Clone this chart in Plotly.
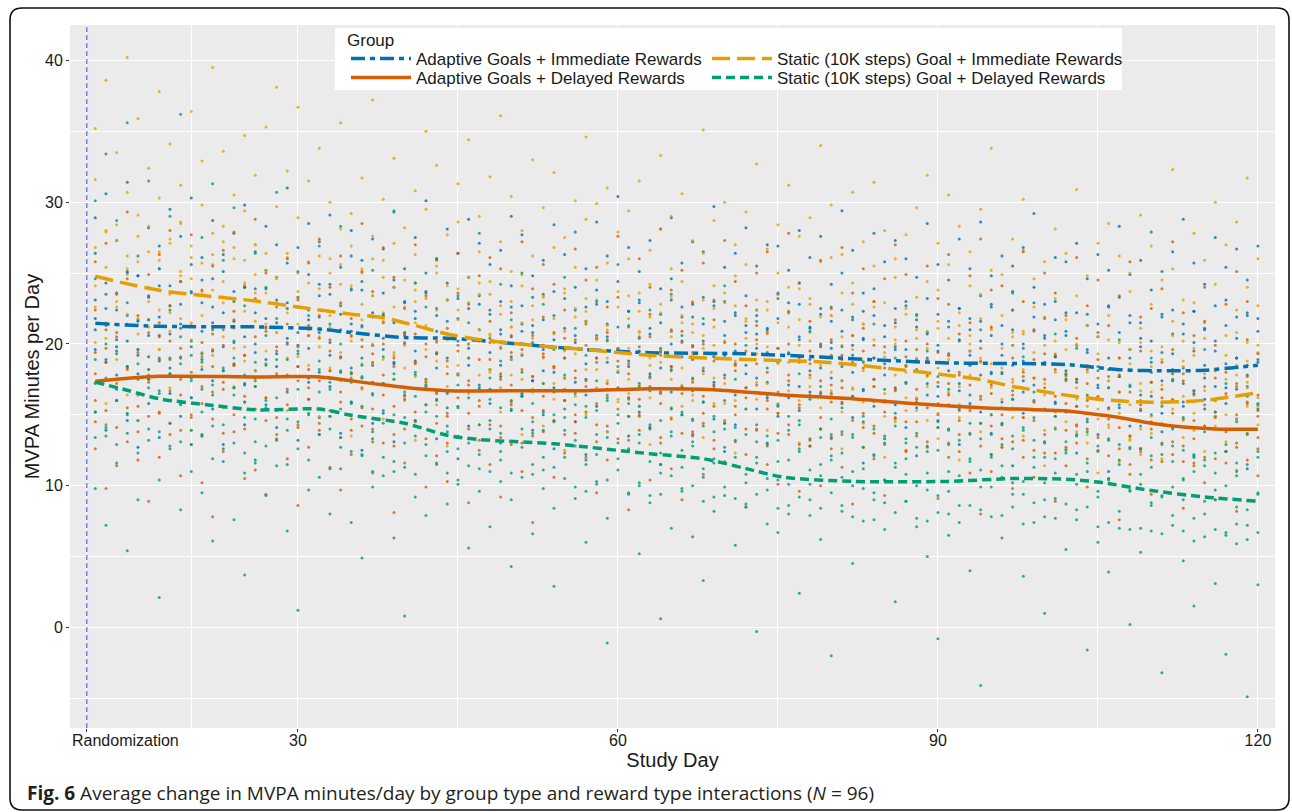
import plotly.graph_objects as go

# ---------------- data ----------------
GROUPS = [
    "Adaptive Goals + Immediate Rewards",
    "Static (10K steps) Goal + Immediate Rewards",
    "Adaptive Goals + Delayed Rewards",
    "Static (10K steps) Goal + Delayed Rewards",
]

DAYS = [11, 12, 13, 14, 15, 16, 17, 18, 19, 20, 21, 22, 23, 24, 25, 26, 27, 28, 29, 30,
        31, 32, 33, 34, 35, 36, 37, 38, 39, 40, 41, 42, 43, 44, 45, 46, 47, 48, 49, 50,
        51, 52, 53, 54, 55, 56, 57, 58, 59, 60, 61, 62, 63, 64, 65, 66, 67, 68, 69, 70,
        71, 72, 73, 74, 75, 76, 77, 78, 79, 80, 81, 82, 83, 84, 85, 86, 87, 88, 89, 90,
        91, 92, 93, 94, 95, 96, 97, 98, 99, 100, 101, 102, 103, 104, 105, 106, 107, 108, 109, 110,
        111, 112, 113, 114, 115, 116, 117, 118, 119, 120]

# daily MVPA values, one row per day
AI_DOTS = [
    [21.8, 26.4, 15.2, 28.9], [18.7, 23.5, 30.6, 13.9], [22.4, 16.8, 27.3, 19.5], [25.1, 14.6, 20.2, 31.4],
    [17.9, 24.8, 21.6, 12.7], [23.3, 19.1, 28.2, 15.8], [20.6, 26.9, 13.4, 24.1], [16.5, 22.7, 29.5, 18.3],
    [24.4, 14.9, 21.1, 27.6], [19.8, 25.6, 16.2, 30.3], [22.9, 13.6, 26.1, 18.9], [15.4, 21.5, 28.7, 24.6],
    [26.3, 18.1, 12.9, 22.2], [20.1, 27.8, 16.9, 23.7], [17.2, 24.0, 29.8, 14.3], [23.9, 19.4, 26.5, 11.8],
    [21.2, 15.7, 28.3, 25.2], [18.4, 23.1, 14.1, 27.0], [25.7, 20.4, 16.6, 31.0], [22.6, 13.2, 19.9, 26.8],
    [16.1, 24.9, 21.7, 28.5], [20.8, 27.2, 14.8, 23.4], [24.2, 17.6, 29.1, 19.2], [13.7, 22.1, 25.4, 18.0],
    [21.4, 26.2, 15.9, 28.0], [19.0, 23.8, 12.5, 25.9], [27.4, 17.3, 21.9, 14.4], [22.0, 15.1, 26.7, 19.6],
    [18.6, 24.5, 29.3, 13.1], [25.3, 20.0, 16.4, 23.0], [14.6, 21.8, 27.5, 18.8], [23.6, 17.0, 25.0, 30.1],
    [19.3, 26.0, 13.3, 22.5], [21.6, 15.5, 28.1, 24.3], [17.8, 23.2, 11.9, 26.4], [24.7, 19.7, 14.2, 28.8],
    [20.3, 27.1, 16.7, 22.8], [15.8, 22.4, 25.6, 18.2], [26.6, 18.5, 21.0, 13.0], [19.1, 24.1, 29.0, 15.3],
    [22.7, 16.3, 27.7, 20.9], [13.9, 21.3, 24.8, 17.4], [25.9, 19.6, 15.0, 23.5], [18.0, 23.7, 28.4, 12.6],
    [21.1, 26.3, 16.0, 19.0], [24.0, 14.5, 20.6, 27.9], [17.5, 22.6, 25.3, 12.2], [20.4, 15.6, 28.6, 23.8],
    [26.2, 18.7, 13.8, 21.4], [16.9, 24.4, 19.4, 30.4], [22.3, 13.5, 26.8, 18.4], [19.5, 25.1, 15.2, 23.1],
    [27.3, 20.7, 14.0, 17.7], [18.3, 23.9, 21.5, 11.5], [24.6, 16.6, 28.9, 20.0], [15.0, 21.9, 25.7, 19.1],
    [22.8, 18.9, 13.6, 27.2], [20.2, 26.5, 16.8, 23.3], [17.1, 23.0, 29.7, 14.7], [25.4, 19.2, 12.4, 21.6],
    [14.3, 22.2, 26.4, 18.6], [23.4, 17.9, 20.8, 28.2], [19.7, 25.5, 15.4, 22.0], [21.0, 13.0, 27.0, 17.3],
    [26.9, 18.8, 23.6, 14.9], [16.2, 22.9, 19.3, 25.2], [24.3, 15.3, 28.0, 20.5], [18.1, 21.2, 12.8, 26.1],
    [22.1, 27.6, 16.5, 19.8], [13.4, 20.1, 24.2, 17.6], [25.0, 18.4, 22.4, 29.4], [19.9, 14.8, 26.6, 21.7],
    [16.7, 23.6, 11.6, 20.3], [27.8, 19.0, 15.6, 23.9], [21.3, 25.8, 17.8, 13.3], [15.7, 22.5, 19.6, 27.3],
    [23.0, 14.1, 26.0, 18.5], [18.9, 24.7, 12.1, 21.2], [20.7, 16.4, 28.5, 23.2], [25.6, 19.5, 14.6, 17.0],
    [14.0, 21.6, 24.5, 19.3], [22.5, 17.2, 27.4, 12.9], [19.2, 25.3, 15.8, 21.8], [16.3, 23.4, 20.2, 28.6],
    [24.8, 18.0, 13.7, 22.6], [20.0, 14.4, 26.2, 17.9], [23.7, 21.0, 11.4, 25.5], [17.4, 26.8, 19.7, 15.1],
    [21.9, 16.0, 24.0, 29.2], [18.6, 22.8, 13.1, 20.6], [26.1, 19.1, 15.9, 23.0], [15.2, 20.9, 25.8, 18.1],
    [22.2, 17.5, 12.3, 27.1], [19.6, 24.6, 21.3, 14.5], [13.6, 20.5, 26.3, 17.1], [25.2, 18.2, 22.7, 11.0],
    [17.7, 23.3, 15.5, 28.3], [21.5, 14.2, 19.0, 24.9], [16.4, 25.9, 20.4, 12.6], [23.8, 18.7, 27.9, 15.0],
    [19.4, 13.8, 22.1, 25.1], [26.5, 17.4, 20.7, 14.1], [15.6, 21.4, 28.8, 18.3], [22.3, 12.0, 19.5, 25.7],
    [18.5, 24.2, 16.1, 21.0], [14.9, 20.2, 27.5, 17.0], [23.1, 16.9, 25.4, 12.4], [19.0, 26.7, 14.7, 21.9],
    [24.5, 17.8, 22.0, 11.2], [20.9, 15.4, 26.9, 18.7],
]
AI_CORE = [
    [19.6, 23.1, 21.0], [22.5, 18.9, 24.3], [20.3, 17.8, 23.6], [18.4, 22.0, 25.0], [21.7, 19.2, 24.8],
    [23.4, 17.5, 20.6], [18.8, 21.9, 25.3], [20.7, 24.1, 17.9], [22.8, 19.0, 21.4], [17.6, 23.7, 20.2],
    [24.5, 20.9, 18.2], [19.5, 22.6, 17.4], [21.2, 25.1, 19.8], [23.0, 18.6, 21.6], [20.5, 17.1, 24.0],
    [22.2, 20.0, 18.1], [18.9, 23.9, 21.8], [21.5, 19.3, 24.7], [20.0, 22.9, 17.7], [23.3, 18.4, 20.8],
    [19.7, 22.4, 17.3], [21.9, 18.0, 24.2], [20.1, 23.5, 17.0], [22.7, 19.1, 21.0], [18.3, 20.9, 23.8],
    [21.3, 17.6, 24.4], [19.9, 22.2, 18.5], [23.6, 20.4, 17.2], [18.7, 21.5, 24.0], [20.6, 16.9, 22.9],
    [22.3, 19.5, 17.8], [17.5, 21.1, 23.7], [20.9, 18.3, 22.0], [19.0, 23.1, 16.6], [21.8, 17.9, 20.2],
    [18.5, 22.5, 20.0], [21.0, 17.1, 23.4], [19.4, 22.1, 16.8], [17.7, 20.7, 23.0], [22.6, 18.9, 20.5],
    [16.5, 21.4, 19.2], [20.8, 23.3, 17.4], [18.1, 21.7, 19.9], [22.0, 16.9, 20.3], [19.6, 23.2, 17.6],
    [17.3, 20.1, 22.4], [21.6, 18.6, 16.4], [19.0, 22.8, 20.6], [16.8, 20.5, 23.0], [21.2, 18.0, 19.7],
    [18.8, 22.3, 16.2], [20.4, 17.2, 22.9], [17.9, 21.1, 19.3], [22.1, 19.5, 16.6], [18.4, 20.9, 23.1],
    [20.2, 17.0, 22.6], [16.7, 19.8, 21.9], [21.4, 18.1, 15.9], [19.1, 22.7, 17.3], [17.8, 20.6, 23.0],
    [22.0, 16.4, 19.5], [18.5, 21.3, 16.9], [20.7, 17.6, 22.4], [16.2, 19.4, 21.1], [21.8, 18.7, 15.6],
    [19.3, 22.2, 17.1], [17.0, 20.3, 22.8], [21.1, 16.6, 18.9], [18.3, 22.5, 20.0], [16.5, 19.7, 21.6],
    [20.9, 17.4, 15.8], [18.0, 21.9, 19.2], [22.3, 16.8, 20.4], [17.5, 19.0, 22.0], [20.5, 15.9, 18.6],
    [16.9, 21.5, 19.8], [19.6, 17.3, 22.7], [21.7, 18.2, 15.5], [17.2, 20.8, 19.0], [19.9, 16.3, 22.1],
    [18.1, 21.2, 15.7], [20.3, 16.7, 22.5], [16.4, 19.5, 21.0], [21.6, 17.8, 15.2], [17.9, 20.6, 22.8],
    [19.2, 15.9, 21.3], [22.4, 18.5, 16.1], [16.6, 20.0, 18.8], [21.0, 17.1, 22.9], [18.7, 15.4, 20.4],
    [15.8, 21.7, 19.1], [20.6, 17.5, 22.2], [17.3, 19.9, 15.6], [22.1, 16.2, 19.4], [18.4, 21.4, 16.9],
    [15.5, 19.0, 22.6], [20.8, 17.7, 16.0], [17.0, 22.0, 19.6], [19.8, 15.3, 21.5], [16.3, 20.2, 18.0],
    [21.9, 17.4, 15.1], [18.2, 22.4, 19.3], [15.9, 20.7, 17.2], [20.1, 16.5, 22.3], [17.6, 21.1, 15.4],
    [19.5, 16.0, 22.7], [21.3, 18.6, 15.8], [16.8, 20.4, 19.0], [22.2, 17.0, 18.5], [18.9, 15.7, 21.8],
]
SI_DOTS = [
    [24.1, 31.6, 17.3, 35.2], [27.9, 20.4, 38.6, 15.8], [22.6, 33.5, 18.9, 28.4], [40.2, 25.3, 16.4, 30.7],
    [21.8, 29.1, 35.9, 14.6], [26.5, 18.2, 32.4, 23.0], [30.3, 19.6, 37.8, 25.9], [16.9, 27.4, 22.2, 34.1],
    [24.8, 31.2, 17.7, 28.6], [36.4, 21.5, 26.1, 13.9], [23.7, 29.8, 18.4, 32.9], [19.2, 25.6, 39.5, 27.8],
    [28.3, 15.5, 22.9, 33.6], [21.1, 30.5, 26.8, 17.0], [34.7, 24.3, 19.8, 29.4], [18.1, 27.0, 23.6, 31.9],
    [25.2, 35.3, 16.2, 21.4], [29.7, 20.8, 38.1, 24.6], [15.3, 26.4, 32.2, 22.5], [23.2, 28.9, 19.1, 36.7],
    [31.5, 17.6, 25.8, 21.0], [20.5, 27.3, 33.8, 14.9], [26.0, 22.0, 30.0, 18.3], [17.4, 35.6, 24.2, 28.1],
    [29.2, 20.2, 26.9, 13.5], [22.8, 31.7, 16.8, 25.0], [27.6, 18.6, 37.2, 23.4], [14.7, 25.9, 21.6, 30.2],
    [24.0, 33.1, 19.4, 27.1], [19.9, 28.2, 16.0, 22.6], [30.8, 23.8, 13.2, 26.3], [21.3, 17.1, 29.5, 35.0],
    [25.5, 20.1, 32.6, 15.7], [18.4, 27.7, 23.1, 12.8], [28.6, 22.4, 17.9, 31.3], [16.5, 24.7, 34.4, 20.0],
    [23.5, 29.0, 14.3, 26.5], [20.6, 31.8, 18.0, 24.4], [27.2, 15.2, 22.7, 36.1], [17.8, 25.1, 30.4, 21.2],
    [24.9, 19.3, 13.6, 28.0], [21.7, 33.0, 26.2, 16.6], [14.2, 23.3, 19.0, 29.6], [26.8, 20.7, 32.1, 17.2],
    [19.5, 27.5, 23.9, 12.5], [30.1, 16.3, 21.9, 25.4], [22.3, 28.8, 15.0, 34.6], [18.2, 24.5, 29.9, 20.3],
    [25.7, 13.8, 21.0, 31.0], [16.1, 27.9, 23.7, 19.6], [29.4, 21.8, 17.5, 26.0], [23.6, 15.6, 31.5, 20.9],
    [19.0, 26.6, 12.9, 24.2], [28.1, 22.2, 18.7, 33.3], [14.8, 20.5, 25.3, 29.0], [24.4, 30.6, 17.1, 21.5],
    [20.8, 16.0, 27.3, 23.0], [26.4, 19.7, 35.1, 13.4], [17.6, 24.1, 21.2, 28.7], [22.9, 30.0, 15.8, 19.4],
    [27.0, 18.5, 24.8, 12.3], [15.4, 21.6, 29.3, 25.6], [23.1, 17.3, 20.0, 32.7], [19.8, 26.7, 13.9, 22.4],
    [25.0, 15.1, 28.4, 18.8], [21.2, 31.2, 16.7, 24.0], [13.0, 23.9, 27.6, 19.2], [28.9, 20.2, 17.0, 22.8],
    [18.5, 25.8, 34.0, 14.0], [22.0, 16.4, 26.1, 29.8], [26.3, 19.9, 12.6, 23.6], [16.8, 24.3, 30.7, 20.6],
    [21.4, 27.2, 18.1, 14.4], [25.5, 15.9, 23.0, 31.4], [19.1, 22.9, 28.0, 12.0], [14.5, 26.0, 20.3, 24.7],
    [27.7, 18.0, 22.5, 16.2], [20.4, 29.6, 15.3, 23.3], [17.0, 24.4, 31.9, 19.7], [23.8, 13.3, 27.1, 21.1],
    [18.9, 25.6, 16.5, 30.5], [22.2, 15.7, 28.3, 11.8], [26.5, 20.0, 17.8, 24.1], [13.8, 23.5, 29.5, 19.0],
    [21.0, 16.9, 25.2, 33.8], [24.9, 18.3, 12.7, 22.0], [17.5, 27.4, 20.8, 14.8], [20.7, 13.5, 26.6, 30.2],
    [15.9, 22.6, 18.6, 24.6], [25.8, 17.2, 21.9, 11.4], [19.3, 28.1, 14.1, 23.2], [12.6, 21.7, 26.4, 17.7],
    [23.4, 16.1, 30.9, 19.9], [18.0, 24.8, 13.0, 21.3], [27.1, 15.4, 20.5, 10.9], [14.3, 22.0, 17.4, 28.5],
    [20.1, 26.2, 11.7, 16.6], [23.7, 13.2, 19.6, 25.0], [16.7, 21.1, 29.1, 12.2], [22.8, 18.4, 14.9, 26.9],
    [11.9, 19.8, 24.5, 17.1], [25.3, 16.0, 21.6, 32.3], [18.8, 23.1, 13.4, 20.2], [15.1, 27.8, 19.2, 22.9],
    [21.5, 12.4, 25.9, 17.9], [24.2, 18.1, 30.0, 14.2], [13.1, 20.6, 16.3, 27.0], [22.4, 28.6, 18.5, 11.1],
    [17.3, 24.0, 31.7, 20.1], [26.0, 15.6, 19.9, 22.7],
]
SI_CORE = [
    [22.6, 26.8, 20.1], [25.4, 21.5, 28.0], [23.0, 27.3, 19.8], [26.2, 22.1, 24.9], [20.7, 25.8, 27.6],
    [24.0, 21.2, 28.3], [22.4, 26.5, 19.6], [27.1, 23.5, 20.9], [21.8, 25.1, 28.5], [24.6, 20.3, 26.9],
    [22.0, 25.7, 19.4], [26.3, 21.1, 23.8], [20.5, 24.4, 27.2], [23.1, 19.7, 26.0], [25.9, 22.3, 18.8],
    [21.6, 24.9, 27.0], [19.5, 23.6, 26.4], [24.7, 20.8, 22.9], [22.2, 26.1, 19.0], [25.0, 21.4, 23.7],
    [20.6, 24.3, 18.5], [23.9, 19.8, 26.2], [21.2, 25.0, 18.1], [19.4, 22.8, 25.6], [24.1, 20.5, 17.9],
    [21.7, 18.6, 25.3], [23.4, 20.0, 26.0], [18.9, 22.2, 24.7], [22.6, 19.2, 17.5], [20.8, 24.5, 18.3],
    [23.0, 17.7, 21.5], [19.6, 23.2, 17.4], [22.4, 18.8, 25.0], [20.3, 24.1, 17.0], [18.5, 21.7, 23.9],
    [22.9, 19.0, 16.6], [17.8, 21.0, 24.3], [20.7, 18.2, 23.5], [22.1, 16.9, 19.8], [18.9, 23.0, 21.2],
    [21.5, 17.5, 24.1], [16.8, 20.4, 22.7], [19.9, 23.4, 17.2], [21.8, 18.4, 16.1], [17.6, 20.9, 23.6],
    [22.5, 19.3, 16.7], [18.2, 21.6, 23.2], [20.5, 16.9, 23.1], [17.4, 21.3, 19.0], [22.6, 18.1, 15.9],
    [19.7, 23.4, 16.5], [17.1, 20.8, 22.3], [21.9, 18.5, 16.2], [16.8, 19.6, 22.8], [20.9, 17.5, 23.3],
    [18.3, 22.0, 15.6], [21.4, 16.4, 19.2], [17.9, 23.1, 20.6], [15.8, 19.9, 22.5], [20.2, 17.2, 23.6],
    [22.7, 18.8, 16.0], [16.6, 20.4, 21.8], [19.3, 22.4, 16.1], [17.2, 20.7, 23.0], [21.5, 15.8, 18.6],
    [18.7, 22.2, 16.4], [16.0, 19.9, 21.7], [20.8, 17.6, 23.2], [15.5, 19.1, 21.9], [22.0, 18.0, 16.7],
    [17.4, 20.5, 15.2], [19.6, 22.8, 16.9], [15.9, 18.8, 21.4], [20.3, 17.0, 22.6], [16.5, 19.4, 14.9],
    [21.2, 17.8, 20.0], [15.3, 18.5, 22.1], [19.0, 16.2, 21.0], [17.7, 20.9, 14.6], [15.1, 18.3, 21.6],
    [20.4, 16.6, 19.2], [17.0, 21.3, 14.8], [19.5, 15.6, 20.6], [16.3, 18.7, 21.8], [18.6, 15.0, 21.1],
    [16.1, 19.7, 14.3], [20.5, 17.3, 15.5], [14.8, 18.2, 20.9], [17.6, 15.3, 19.4], [19.9, 16.4, 13.9],
    [15.2, 18.0, 20.2], [17.9, 14.5, 19.6], [13.8, 16.9, 20.0], [18.5, 15.6, 13.6], [16.2, 19.3, 14.7],
    [14.1, 17.4, 20.3], [19.0, 15.1, 17.8], [15.7, 18.6, 13.3], [17.2, 14.0, 20.1], [13.7, 16.6, 19.5],
    [18.9, 15.8, 14.4], [15.4, 17.9, 20.6], [14.6, 18.4, 16.3], [19.7, 15.9, 13.9], [16.7, 14.2, 20.4],
    [18.1, 16.0, 14.9], [15.0, 19.2, 17.5], [17.8, 14.7, 20.8], [15.6, 18.8, 16.9], [19.4, 16.2, 14.3],
]
AD_DOTS = [
    [17.9, 22.4, 12.6, 25.8], [14.3, 19.7, 27.1, 9.8], [20.8, 16.0, 23.5, 11.4], [13.1, 24.6, 18.2, 29.3],
    [19.4, 11.8, 22.0, 15.6], [24.9, 17.3, 8.9, 21.7], [15.2, 20.5, 26.3, 12.0], [22.7, 13.6, 18.9, 28.0],
    [10.7, 19.1, 24.4, 16.4], [21.3, 15.0, 27.7, 12.9], [17.0, 23.8, 10.2, 20.1], [25.5, 14.7, 19.6, 7.8],
    [12.4, 21.0, 16.8, 26.6], [18.5, 27.9, 13.8, 22.3], [15.9, 10.5, 24.1, 19.2], [23.2, 17.6, 11.1, 28.8],
    [9.4, 20.9, 16.2, 25.0], [19.8, 13.3, 22.6, 14.8], [26.0, 17.8, 11.9, 21.4], [14.1, 23.1, 18.4, 8.6],
    [20.6, 12.7, 25.7, 16.9], [17.4, 27.4, 14.4, 22.0], [11.3, 19.5, 24.0, 15.3], [22.9, 16.6, 9.7, 26.2],
    [13.9, 21.8, 18.0, 12.2], [25.1, 15.5, 20.3, 28.5], [18.7, 10.9, 23.7, 14.0], [21.5, 26.8, 13.0, 17.2],
    [12.8, 19.0, 24.7, 8.1], [16.3, 22.5, 11.6, 20.7], [24.3, 14.5, 18.6, 27.0], [9.9, 20.0, 15.7, 23.4],
    [19.3, 25.9, 12.1, 16.5], [14.9, 21.1, 17.9, 10.3], [23.6, 13.4, 19.9, 26.4], [17.1, 8.8, 22.8, 15.1],
    [20.2, 16.0, 12.5, 24.8], [11.5, 18.9, 26.1, 21.6], [25.3, 14.2, 17.5, 9.2], [15.7, 22.2, 20.6, 12.9],
    [19.6, 27.2, 11.0, 16.7], [13.5, 17.7, 23.9, 7.4], [21.9, 15.3, 19.1, 25.6], [10.6, 24.2, 14.6, 18.3],
    [16.8, 12.3, 22.4, 20.4], [26.7, 18.1, 13.7, 15.0], [12.0, 21.4, 17.0, 24.5], [19.0, 9.5, 25.4, 14.3],
    [22.6, 16.4, 11.8, 20.8], [15.4, 23.3, 18.8, 27.6], [8.3, 17.9, 21.2, 13.2], [20.5, 14.9, 26.0, 16.1],
    [17.6, 24.0, 10.4, 22.1], [13.0, 19.4, 15.8, 28.1], [23.8, 11.2, 18.4, 21.0], [16.5, 20.1, 25.2, 9.0],
    [19.9, 13.8, 22.9, 17.3], [10.8, 25.7, 16.3, 14.4], [21.7, 17.0, 12.6, 23.1], [14.6, 19.3, 27.3, 11.7],
    [24.4, 15.6, 18.1, 20.0], [12.2, 22.7, 16.9, 8.5], [18.6, 14.0, 25.0, 21.3], [20.8, 26.5, 11.5, 16.0],
    [15.1, 10.1, 19.7, 23.5], [22.3, 17.4, 13.6, 27.8], [9.6, 18.7, 24.3, 15.5], [17.8, 21.6, 12.8, 19.5],
    [25.9, 14.8, 16.6, 10.0], [13.3, 20.3, 22.5, 17.1], [19.2, 11.3, 26.8, 15.9], [16.2, 23.6, 8.7, 20.6],
    [21.1, 14.1, 18.3, 25.3], [11.9, 17.5, 23.0, 13.7], [24.6, 19.8, 15.2, 9.3], [14.7, 21.7, 16.8, 27.0],
    [18.4, 12.4, 24.9, 20.2], [10.3, 16.1, 22.1, 14.5], [20.0, 25.5, 13.1, 17.8], [15.8, 9.1, 19.4, 23.2],
    [22.8, 17.2, 12.0, 26.3], [13.6, 20.7, 15.3, 18.0], [17.1, 24.8, 10.9, 21.5], [19.7, 14.4, 27.4, 8.0],
    [11.0, 21.2, 16.5, 23.8], [24.1, 15.0, 18.6, 12.7], [16.4, 19.9, 9.8, 22.4], [13.2, 23.0, 17.7, 26.5],
    [20.9, 10.6, 14.6, 18.9], [17.5, 25.0, 21.8, 12.3], [8.9, 16.3, 19.2, 23.6], [22.0, 13.9, 11.4, 17.4],
    [15.6, 20.4, 26.1, 14.2], [18.2, 9.9, 22.7, 16.0], [12.5, 17.6, 24.5, 20.8], [21.3, 14.7, 10.5, 16.9],
    [16.6, 23.4, 19.0, 7.6], [10.8, 18.1, 13.5, 25.8], [19.5, 12.6, 21.9, 15.4], [14.0, 22.5, 17.3, 9.4],
    [23.9, 16.2, 11.7, 18.7], [13.1, 19.6, 15.1, 27.2], [17.9, 8.4, 22.2, 12.8], [11.6, 20.6, 16.4, 14.6],
    [21.6, 15.7, 24.0, 10.2], [14.8, 9.0, 18.2, 19.9], [18.0, 22.8, 12.4, 16.2], [12.7, 17.0, 25.1, 8.2],
    [20.3, 13.7, 15.9, 23.0], [15.3, 10.7, 19.3, 13.4],
]
AD_CORE = [
    [16.0, 19.4, 14.5], [18.7, 15.3, 21.0], [17.2, 20.5, 14.1], [15.5, 18.3, 21.4], [19.6, 16.4, 13.8],
    [17.8, 14.9, 20.8], [15.1, 18.9, 21.5], [20.2, 16.7, 14.4], [17.5, 13.9, 19.7], [14.8, 18.0, 21.2],
    [19.1, 15.8, 13.5], [16.6, 20.7, 18.4], [13.7, 17.3, 19.9], [18.5, 15.0, 21.7], [16.3, 19.2, 14.0],
    [20.5, 17.0, 15.4], [14.6, 18.6, 21.1], [17.9, 13.6, 19.5], [15.7, 20.1, 16.8], [19.8, 14.3, 17.4],
    [16.1, 21.3, 18.2], [13.9, 17.7, 20.4], [18.1, 14.9, 20.3], [15.9, 19.0, 13.4], [17.6, 20.6, 14.7],
    [14.2, 16.9, 19.8], [19.3, 15.4, 13.1], [16.4, 20.0, 17.8], [13.6, 18.4, 15.6], [20.1, 16.1, 14.0],
    [15.2, 18.7, 20.7], [17.3, 13.3, 19.1], [14.4, 16.6, 20.2], [18.8, 15.1, 13.0], [16.2, 19.5, 13.5],
    [14.0, 17.4, 20.4], [18.9, 15.6, 13.2], [16.7, 20.1, 14.3], [13.4, 17.9, 19.7], [19.4, 15.9, 17.1],
    [15.3, 18.2, 13.0], [17.7, 20.6, 14.8], [13.8, 16.3, 19.3], [18.4, 14.6, 20.8], [16.0, 19.0, 13.6],
    [14.5, 17.6, 20.3], [19.9, 15.2, 17.4], [15.8, 13.1, 18.7], [17.2, 20.2, 14.2], [13.3, 16.8, 19.6],
    [18.6, 14.9, 16.1], [15.0, 19.8, 13.9], [17.0, 14.1, 20.5], [19.2, 16.5, 13.4], [14.7, 18.1, 15.5],
    [16.9, 20.9, 13.7], [13.5, 17.5, 19.4], [18.3, 15.1, 20.0], [15.6, 13.2, 18.8], [17.6, 14.4, 20.1],
    [15.0, 18.5, 13.1], [19.5, 16.2, 14.0], [13.9, 17.1, 20.3], [18.0, 15.4, 12.8], [16.6, 19.7, 13.7],
    [14.3, 17.8, 20.0], [19.0, 15.7, 12.9], [13.2, 16.4, 18.6], [17.4, 14.0, 19.9], [15.9, 19.2, 12.6],
    [13.6, 16.9, 18.9], [18.7, 14.6, 16.3], [15.1, 12.7, 19.5], [17.0, 19.9, 14.2], [12.9, 16.0, 18.3],
    [18.2, 14.8, 16.7], [14.5, 19.1, 12.5], [16.8, 13.5, 19.6], [18.9, 15.5, 12.7], [14.1, 17.3, 15.0],
    [16.4, 13.0, 19.2], [14.6, 17.8, 12.4], [18.5, 15.3, 13.6], [12.8, 16.1, 18.8], [17.1, 14.2, 12.2],
    [15.5, 18.6, 13.3], [13.1, 16.7, 19.0], [18.0, 14.8, 12.0], [12.5, 15.9, 17.6], [16.9, 13.6, 19.3],
    [14.9, 18.2, 12.3], [12.7, 15.8, 17.9], [17.5, 14.3, 13.0], [14.0, 11.9, 17.2], [16.3, 18.9, 13.4],
    [12.1, 15.4, 17.7], [17.8, 14.1, 12.6], [13.5, 16.6, 11.5], [15.7, 12.4, 18.1], [17.3, 14.5, 11.8],
    [12.9, 15.9, 16.8], [16.1, 12.2, 17.9], [11.7, 14.7, 17.4], [16.7, 13.3, 11.4], [14.2, 17.0, 12.0],
    [11.9, 15.2, 17.6], [16.5, 13.8, 11.6], [13.0, 17.2, 15.0], [15.8, 11.8, 17.7], [12.6, 14.9, 16.4],
]
SD_DOTS = [
    [17.2, 24.6, 9.8, 30.1], [13.5, 21.3, 33.4, 7.2], [19.8, 28.7, 11.6, 16.0], [35.6, 15.1, 22.9, 5.4],
    [12.3, 18.6, 26.2, 9.0], [21.7, 14.0, 31.5, 17.5], [10.4, 25.3, 16.7, 2.1], [19.0, 12.8, 29.0, 22.4],
    [36.2, 15.8, 8.3, 20.5], [13.9, 23.6, 17.4, 11.0], [27.5, 9.5, 19.3, 15.2], [16.4, 21.0, 6.1, 31.3],
    [11.7, 25.9, 18.1, 14.3], [20.2, 7.6, 16.9, 29.6], [14.8, 22.7, 10.9, 3.7], [18.7, 13.1, 26.4, 17.0],
    [9.3, 20.6, 15.5, 24.0], [16.2, 11.4, 30.7, 21.8], [22.5, 14.7, 6.8, 18.9], [12.6, 19.5, 25.1, 1.2],
    [17.7, 9.7, 22.0, 15.0], [26.9, 13.6, 18.2, 10.6], [14.9, 21.4, 8.0, 16.8], [20.0, 11.2, 28.3, 13.4],
    [7.4, 17.3, 23.9, 15.9], [18.5, 12.1, 4.9, 21.2], [13.8, 25.2, 16.4, 9.9], [22.1, 15.3, 10.7, 19.1],
    [11.0, 17.9, 29.4, 6.3], [16.6, 20.8, 13.0, 0.8], [24.3, 9.2, 18.0, 14.6], [12.9, 15.7, 22.6, 7.9],
    [19.4, 11.5, 16.1, 26.0], [8.7, 14.2, 20.7, 12.4], [17.1, 23.4, 10.1, 15.6], [13.3, 5.6, 19.0, 21.5],
    [9.6, 16.9, 12.2, 27.8], [20.4, 14.0, 7.1, 17.6], [11.8, 18.8, 24.2, 13.7], [15.4, 9.0, 21.7, 4.3],
    [18.0, 12.7, 16.3, 25.0], [6.6, 14.5, 20.1, 10.8], [22.8, 11.1, 17.2, 13.9], [15.0, 8.4, 19.6, 2.9],
    [12.0, 17.8, 24.7, 14.8], [9.1, 21.1, 13.2, 16.5], [19.2, 15.6, 6.0, 11.5], [13.6, 23.0, 10.3, 17.4],
    [7.7, 16.2, 20.3, -1.1], [14.4, 11.9, 18.4, 25.6], [21.3, 9.4, 15.8, 12.5], [10.0, 17.0, 13.0, 5.2],
    [16.7, 22.4, 8.8, 14.1], [12.3, 19.7, 0.6, 10.9], [18.2, 13.5, 23.5, 7.0], [9.8, 15.2, 11.3, 20.6],
    [14.6, 6.4, 17.6, 12.8], [21.8, 10.6, 15.9, 3.3], [8.2, 13.8, 19.1, 11.6], [16.0, 24.1, 9.3, 14.0],
    [11.4, 17.5, 5.8, 13.2], [19.9, 8.5, 15.4, 10.2], [13.1, 21.6, 12.0, -0.3], [7.3, 16.4, 10.5, 18.3],
    [15.7, 11.7, 23.2, 6.7], [10.1, 14.9, 8.0, 19.4], [17.9, 12.6, 2.4, 14.3], [9.0, 20.9, 11.1, 16.1],
    [13.4, 6.2, 17.0, 10.7], [22.6, 11.8, 14.7, -2.0], [8.6, 15.5, 12.3, 19.8], [16.3, 10.0, 4.5, 13.6],
    [11.2, 18.7, 7.5, 14.9], [14.0, 9.5, 21.4, 12.1], [6.9, 13.0, 16.8, 10.4], [19.0, 11.6, 1.8, 15.1],
    [10.8, 17.2, 8.9, 13.3], [15.9, 7.1, 12.7, 22.0], [12.4, 19.5, 5.0, 9.7], [8.1, 14.5, 17.7, -0.8],
    [16.8, 11.0, 13.9, 6.5], [10.3, 20.2, 8.6, 15.4], [13.7, 4.0, 18.5, 11.9], [21.0, 9.9, 14.4, -4.1],
    [7.8, 15.0, 12.2, 17.3], [12.9, 18.0, 6.3, 10.6], [16.1, 10.2, 23.6, 13.5], [9.4, 14.1, 3.6, 19.1],
    [13.2, 7.4, 16.6, 11.3], [18.6, 12.0, 9.0, 1.0], [10.9, 20.7, 14.9, 7.7], [15.3, 5.5, 12.5, 17.8],
    [8.3, 13.6, 19.7, 10.1], [14.7, 11.0, -1.6, 16.4], [6.0, 12.8, 9.2, 18.1], [16.9, 10.4, 13.3, 3.9],
    [11.5, 7.0, 15.7, 20.3], [9.6, 17.1, 12.6, 0.2], [14.2, 5.3, 10.8, 16.0], [8.8, 12.1, 19.0, 6.8],
    [13.0, 9.3, 15.6, -3.2], [17.5, 7.9, 11.7, 14.0], [10.5, 14.8, 4.7, 9.0], [12.2, 6.1, 16.7, 1.5],
    [8.0, 11.4, 13.8, 19.6], [15.2, 9.7, 3.1, 10.9], [6.7, 12.9, 17.2, -1.9], [11.0, 8.5, 14.5, 5.9],
    [13.6, 16.3, 7.2, -4.9], [9.5, 12.4, 3.0, 15.8],
]
SD_CORE = [
    [15.2, 18.9, 13.4], [17.6, 14.1, 20.0], [16.0, 19.3, 12.9], [18.4, 15.0, 13.7], [14.6, 17.5, 19.6],
    [16.9, 13.2, 18.2], [13.8, 16.5, 19.0], [17.9, 14.4, 12.6], [15.7, 18.6, 13.1], [12.9, 16.2, 19.2],
    [16.8, 13.5, 18.7], [14.2, 17.1, 11.9], [18.3, 15.6, 12.6], [13.0, 16.4, 19.0], [15.9, 12.3, 17.8],
    [17.4, 14.7, 11.6], [12.8, 16.0, 18.5], [15.3, 18.9, 13.2], [17.7, 13.9, 11.5], [14.5, 16.8, 19.3],
    [11.8, 15.1, 17.6], [16.6, 13.6, 18.8], [14.0, 17.3, 11.2], [18.1, 15.4, 12.7], [12.4, 15.8, 17.9],
    [15.6, 12.2, 17.7], [13.3, 16.5, 11.0], [17.2, 14.4, 12.0], [11.7, 15.0, 17.5], [14.8, 11.3, 16.9],
    [16.3, 13.5, 10.8], [12.1, 15.2, 17.1], [14.9, 11.6, 16.0], [10.9, 13.8, 16.5], [15.5, 12.6, 10.4],
    [13.0, 16.2, 11.4], [11.2, 14.3, 16.8], [14.6, 11.0, 16.1], [12.4, 15.5, 10.3], [16.0, 13.1, 10.9],
    [10.6, 14.0, 16.4], [13.7, 11.5, 15.8], [15.2, 12.0, 9.8], [11.3, 14.5, 16.6], [13.9, 10.5, 15.4],
    [9.9, 12.8, 15.7], [14.8, 11.8, 9.6], [12.2, 15.3, 10.1], [10.4, 13.4, 16.0], [15.0, 11.1, 13.0],
    [12.6, 9.5, 14.9], [10.2, 13.6, 15.6], [14.3, 11.7, 9.3], [11.5, 14.6, 9.4], [13.8, 10.7, 15.4],
    [9.6, 12.5, 15.0], [13.1, 10.0, 14.7], [11.2, 14.2, 8.9], [14.9, 11.9, 9.2], [9.9, 12.7, 14.4],
    [12.0, 9.1, 14.1], [13.6, 10.8, 8.7], [9.4, 11.6, 14.3], [12.9, 9.7, 13.5], [10.4, 13.2, 8.4],
    [11.8, 8.6, 13.9], [9.2, 12.4, 14.6], [13.3, 10.1, 7.9], [8.4, 11.5, 14.0], [12.1, 9.5, 13.6],
    [10.6, 13.8, 8.2], [7.8, 11.0, 13.4], [12.7, 9.8, 14.5], [9.0, 12.2, 7.6], [13.5, 10.4, 8.8],
    [8.1, 11.3, 14.2], [11.9, 8.9, 13.0], [10.0, 13.7, 7.7], [7.5, 10.9, 12.8], [12.5, 9.3, 14.1],
    [9.6, 12.9, 8.0], [13.2, 10.7, 7.4], [8.6, 11.7, 14.4], [11.1, 8.3, 13.3], [9.9, 13.6, 12.0],
    [7.9, 11.4, 14.3], [12.6, 9.4, 8.5], [10.3, 13.9, 7.3], [8.8, 12.0, 14.8], [13.0, 10.2, 7.8],
    [9.1, 11.9, 14.0], [12.3, 8.7, 13.1], [10.8, 7.6, 13.5], [8.5, 11.6, 13.8], [12.4, 9.6, 7.1],
    [7.4, 10.5, 13.2], [11.8, 8.2, 12.9], [9.7, 12.7, 6.9], [7.0, 10.1, 12.6], [11.3, 8.6, 13.4],
    [9.2, 12.2, 6.6], [12.8, 9.9, 7.2], [6.8, 10.4, 12.5], [11.0, 7.7, 12.1], [8.9, 11.8, 6.4],
    [12.3, 9.0, 6.9], [6.5, 10.0, 12.4], [10.7, 7.3, 11.6], [8.3, 11.5, 6.2], [12.0, 9.4, 6.7],
]

# smoothed group means
AI_LINE_DAYS = [11, 17, 26, 32, 35, 40, 44, 47, 52, 57, 63, 72, 79, 85, 91, 102, 107, 112, 115, 120]
AI_LINE_VALS = [21.45, 21.24, 21.2, 21.05, 20.8, 20.45, 20.4, 20.25, 19.9, 19.6, 19.38, 19.3, 19.07,
                18.84, 18.66, 18.54, 18.18, 18.1, 18.14, 18.5]
SI_LINE_DAYS = [11, 17, 26, 30, 35, 38, 41, 44, 47, 52, 57, 63, 72, 79, 85, 91, 94, 97, 101, 105, 110, 115, 120]
SI_LINE_VALS = [24.77, 23.78, 23.03, 22.6, 22.1, 21.85, 21.3, 20.7, 20.3, 19.9, 19.6, 19.2, 18.9, 18.73,
                18.3, 17.78, 17.48, 17.0, 16.5, 16.1, 15.88, 16.02, 16.55]
AD_LINE_DAYS = [11, 17, 26, 32, 36.5, 41, 44, 53, 57, 63, 69, 75.5, 82, 88, 94, 102, 104, 107, 110, 113, 116, 120]
AD_LINE_VALS = [17.36, 17.71, 17.67, 17.67, 17.25, 16.85, 16.7, 16.7, 16.7, 16.84, 16.77, 16.4, 16.13,
                15.77, 15.5, 15.26, 15.1, 14.8, 14.4, 14.13, 14.0, 13.97]
SD_LINE_DAYS = [11, 14, 17, 22, 26, 32, 35, 40, 44, 47, 54, 63, 68, 72, 75.5, 82, 91, 97, 102, 105, 110, 115, 120]
SD_LINE_VALS = [17.3, 16.73, 16.13, 15.66, 15.35, 15.4, 14.96, 14.4, 13.55, 13.25, 12.95, 12.25, 11.9,
                11.2, 10.6, 10.3, 10.3, 10.5, 10.45, 10.25, 9.66, 9.2, 8.9]

RANDOMIZATION_DAY = 10.2
X_TICKS = [30, 60, 90, 120]
Y_TICKS = [0, 10, 20, 30, 40]

# ---------------- styles ----------------
COLORS = ["#0072B2", "#E69F00", "#D55E00", "#009E73"]
DASHES = ["14px,5px,5px,5px", "18px,7px", "solid", "9px,5px"]
FONT = "Liberation Sans, Arial, Helvetica, sans-serif"

W, H = 1292, 812
PL, PR, PT, PB = 70, 1275, 25, 728  # panel pixel box

# legend layout (pixel positions): (left of key, row centre)
LEGEND_POS = [(346, 59), (707, 59), (346, 78), (707, 78)]


def xp(px):
    return (px - PL) / (PR - PL)


def yp(py):
    return (PB - py) / (PB - PT)


fig = go.Figure()

dot_sets = [(AI_DOTS, AI_CORE), (SI_DOTS, SI_CORE), (AD_DOTS, AD_CORE), (SD_DOTS, SD_CORE)]
for g, (rows_a, rows_b) in enumerate(dot_sets):
    xs, ys = [], []
    for d, ra, rb in zip(DAYS, rows_a, rows_b):
        for v in list(ra) + list(rb):
            xs.append(d)
            ys.append(v)
    fig.add_trace(go.Scatter(
        x=xs, y=ys, mode="markers", showlegend=False, hoverinfo="skip",
        marker=dict(size=3, color=COLORS[g], opacity=0.8, line=dict(width=0)),
    ))

lines = [(AI_LINE_DAYS, AI_LINE_VALS), (SI_LINE_DAYS, SI_LINE_VALS),
         (AD_LINE_DAYS, AD_LINE_VALS), (SD_LINE_DAYS, SD_LINE_VALS)]
legend_names = ["legend", "legend2", "legend3", "legend4"]
for g, (lx, ly) in enumerate(lines):
    fig.add_trace(go.Scatter(
        x=lx, y=ly, mode="lines", name=GROUPS[g], legend=legend_names[g],
        line=dict(color=COLORS[g], width=3.5, dash=DASHES[g], shape="spline", smoothing=0.8),
    ))

# randomization reference line
fig.add_shape(type="line", xref="x", yref="paper", x0=RANDOMIZATION_DAY, x1=RANDOMIZATION_DAY,
              y0=0, y1=1, line=dict(color="#6A6AF2", width=1.3, dash="5px,3px"), layer="above")

# legend box
fig.add_shape(type="rect", xref="paper", yref="paper", x0=xp(335), x1=xp(1122), y0=yp(90), y1=yp(28),
              fillcolor="white", line=dict(width=0), layer="above")

# figure border (rounded rectangle)
bx0, bx1, by0, by1, r = xp(10), xp(1289), yp(8), yp(810), 12
rx, ry = r / (PR - PL), r / (PB - PT)
path = (f"M{bx0+rx},{by0} L{bx1-rx},{by0} Q{bx1},{by0} {bx1},{by0-ry} "
        f"L{bx1},{by1+ry} Q{bx1},{by1} {bx1-rx},{by1} L{bx0+rx},{by1} "
        f"Q{bx0},{by1} {bx0},{by1+ry} L{bx0},{by0-ry} Q{bx0},{by0} {bx0+rx},{by0} Z")
fig.add_shape(type="path", xref="paper", yref="paper", path=path,
              line=dict(color="#111111", width=1.6), layer="above")

fig.add_annotation(text="Group", xref="paper", yref="paper", x=xp(345), y=yp(40),
                   xanchor="left", yanchor="middle", showarrow=False,
                   font=dict(family=FONT, size=17, color="#1a1a1a"))

fig.add_annotation(text="Randomization", xref="paper", yref="paper", x=xp(125.5), y=yp(740),
                   xanchor="center", yanchor="middle", showarrow=False,
                   font=dict(family=FONT, size=16, color="#1a1a1a"))

fig.add_annotation(
    text="<b>Fig. 6</b> Average change in MVPA minutes/day by group type and reward type interactions (<i>N</i> = 96)",
    xref="paper", yref="paper", x=xp(25), y=yp(793), xanchor="left", yanchor="middle", showarrow=False,
    font=dict(family="Open Sans, Noto Sans, sans-serif", size=19, color="#231f20"))

legend_common = dict(orientation="v", xanchor="left", yanchor="middle", bgcolor="rgba(0,0,0,0)",
                     borderwidth=0, itemwidth=60, font=dict(size=17, family=FONT, color="#1a1a1a"))
legend_layout = {}
for name, (lx, ly) in zip(legend_names, LEGEND_POS):
    legend_layout[name] = dict(x=xp(lx), y=yp(ly), **legend_common)

fig.update_layout(
    width=W, height=H,
    margin=dict(l=PL, r=W - PR, t=PT, b=H - PB),
    paper_bgcolor="white", plot_bgcolor="#EBEBEB",
    font=dict(family=FONT, color="#1a1a1a"),
    **legend_layout,
    xaxis=dict(
        range=[8.63, 121.6],
        tickmode="array", tickvals=[RANDOMIZATION_DAY] + X_TICKS,
        ticktext=[""] + [str(t) for t in X_TICKS],
        showgrid=True, gridcolor="white", gridwidth=1.2, zeroline=False,
        ticks="outside", ticklen=3, tickcolor="#333333", tickwidth=1,
        ticklabelstandoff=-5,
        tickfont=dict(size=16, color="#1a1a1a"),
        minor=dict(tickvals=[20, 45, 75, 105], showgrid=True, gridcolor="white", gridwidth=0.6, ticks=""),
        title=dict(text="Study Day", font=dict(size=20), standoff=0),
        automargin=False, showline=False,
    ),
    yaxis=dict(
        range=[-7.1, 42.5],
        tickmode="array", tickvals=Y_TICKS, ticktext=[str(t) for t in Y_TICKS],
        showgrid=True, gridcolor="white", gridwidth=1.2, zeroline=False,
        ticks="outside", ticklen=3, tickcolor="#333333", tickwidth=1,
        tickfont=dict(size=16, color="#1a1a1a"),
        minor=dict(tickvals=[-5, 5, 15, 25, 35], showgrid=True, gridcolor="white", gridwidth=0.6, ticks=""),
        title=dict(text="MVPA Minutes per Day", font=dict(size=20), standoff=0),
        automargin=False, showline=False,
    ),
)

fig.write_html("out.html", config={"displayModeBar": False},
               post_script="document.body.style.margin='0';")
